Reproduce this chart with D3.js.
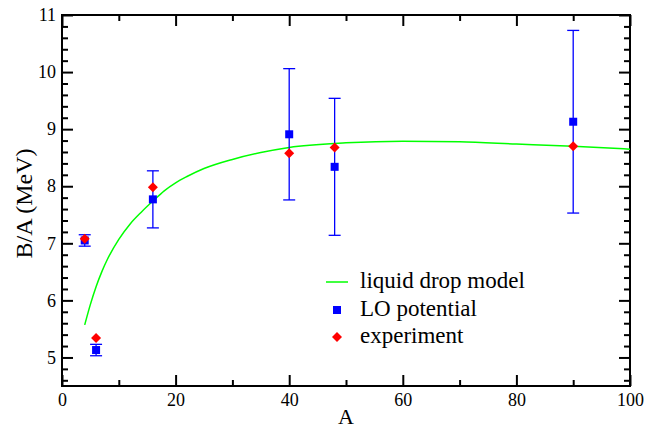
<!DOCTYPE html>
<html>
<head>
<meta charset="utf-8">
<script src="https://cdn.jsdelivr.net/npm/d3@7"></script>
<style>
  html, body { margin: 0; padding: 0; background: #fff; }
  svg, svg text { font-family: "Liberation Serif", "Times New Roman", Times, "DejaVu Serif", serif; }
</style>
</head>
<body>
<svg id="chart" width="647" height="429"></svg>
<script>
// ---- data ----
const nucleusA = [4, 6, 16, 40, 48, 90];
const loPotential = [7.05, 5.13, 7.77, 8.91, 8.34, 9.13];
const loError = [0.10, 0.10, 0.50, 1.15, 1.20, 1.60];
const experiment = [7.08, 5.34, 7.98, 8.58, 8.68, 8.70];

const dropA = [4, 5, 6, 7, 8, 10, 12, 14, 16, 18, 20, 22, 25, 30, 35, 40, 50, 60, 70, 80, 90, 100];
const dropBA = [5.57, 5.93, 6.24, 6.50, 6.72, 7.07, 7.34, 7.55, 7.74, 7.92, 8.06, 8.17, 8.31, 8.47, 8.59, 8.68, 8.76, 8.79, 8.78, 8.74, 8.70, 8.65];

const xMajorTicks = [0, 20, 40, 60, 80, 100];
const xMinorTicks = [10, 30, 50, 70, 90];
const yMajorTicks = [5, 6, 7, 8, 9, 10, 11];
const yMinorTicks = [4.6, 4.8, 5.2, 5.4, 5.6, 5.8, 6.2, 6.4, 6.6, 6.8, 7.2, 7.4, 7.6, 7.8, 8.2, 8.4, 8.6, 8.8, 9.2, 9.4, 9.6, 9.8, 10.2, 10.4, 10.6, 10.8];

const legendLabels = ["liquid drop model", "LO potential", "experiment"];
const xTitle = "A";
const yTitle = "B/A (MeV)";

// ---- layout ----
const FONT = '"Liberation Serif", "Times New Roman", Times, "DejaVu Serif", serif';
const L = 62, R = 630, T = 15, B = 386;
const svg = d3.select("#chart");
svg.append("rect").attr("width", 647).attr("height", 429).attr("fill", "#fff");

const x = d3.scaleLinear().domain([0, 100]).range([L, R]);
const y = d3.scaleLinear().domain([4.5, 11]).range([B, T]);

function styleAxis(g) {
  g.attr("font-family", null).attr("font-size", null);
  g.select(".domain").remove();
  g.selectAll(".tick line").attr("stroke", "#000").attr("stroke-width", 2);
  g.selectAll("text").attr("fill", "#000").attr("font-family", FONT).attr("font-size", "18px");
}

// bottom
svg.append("g").attr("transform", `translate(0,${B})`)
  .call(d3.axisBottom(x).tickValues(xMajorTicks).tickSizeInner(-11).tickSizeOuter(0).tickPadding(7).tickFormat(d3.format("d")))
  .call(styleAxis);
svg.append("g").attr("transform", `translate(0,${B})`)
  .call(d3.axisBottom(x).tickValues(xMinorTicks).tickSizeInner(-6).tickSizeOuter(0).tickFormat(""))
  .call(styleAxis);
// top
svg.append("g").attr("transform", `translate(0,${T})`)
  .call(d3.axisTop(x).tickValues(xMajorTicks).tickSizeInner(-11).tickSizeOuter(0).tickFormat(""))
  .call(styleAxis);
svg.append("g").attr("transform", `translate(0,${T})`)
  .call(d3.axisTop(x).tickValues(xMinorTicks).tickSizeInner(-6).tickSizeOuter(0).tickFormat(""))
  .call(styleAxis);
// left
svg.append("g").attr("transform", `translate(${L},0)`)
  .call(d3.axisLeft(y).tickValues(yMajorTicks).tickSizeInner(-11).tickSizeOuter(0).tickPadding(6).tickFormat(d3.format("d")))
  .call(styleAxis);
svg.append("g").attr("transform", `translate(${L},0)`)
  .call(d3.axisLeft(y).tickValues(yMinorTicks).tickSizeInner(-6).tickSizeOuter(0).tickFormat(""))
  .call(styleAxis);
// right
svg.append("g").attr("transform", `translate(${R},0)`)
  .call(d3.axisRight(y).tickValues(yMajorTicks).tickSizeInner(-11).tickSizeOuter(0).tickFormat(""))
  .call(styleAxis);
svg.append("g").attr("transform", `translate(${R},0)`)
  .call(d3.axisRight(y).tickValues(yMinorTicks).tickSizeInner(-6).tickSizeOuter(0).tickFormat(""))
  .call(styleAxis);

// frame
svg.append("rect").attr("x", L).attr("y", T).attr("width", R - L).attr("height", B - T)
  .attr("fill", "none").attr("stroke", "#000").attr("stroke-width", 2);

// axis titles
svg.append("text").attr("x", (L + R) / 2).attr("y", 424).attr("text-anchor", "middle")
  .attr("font-family", FONT).attr("font-size", "22px").text(xTitle);
svg.append("text").attr("transform", `translate(32,${(T + B) / 2 + 3}) rotate(-90)`).attr("text-anchor", "middle")
  .attr("font-family", FONT).attr("font-size", "24px").text(yTitle);

// liquid drop curve
const dropData = dropA.map((a, i) => [a, dropBA[i]]);
svg.append("path").datum(dropData)
  .attr("fill", "none").attr("stroke", "#00ff00").attr("stroke-width", 1.5)
  .attr("d", d3.line().x(d => x(d[0])).y(d => y(d[1])).curve(d3.curveMonotoneX));

// error bars
const lo = nucleusA.map((a, i) => ({ a, v: loPotential[i], e: loError[i], exp: experiment[i] }));
const eb = svg.append("g").attr("stroke", "#0000ff").attr("stroke-width", 1.3);
lo.forEach(d => {
  eb.append("line").attr("x1", x(d.a)).attr("x2", x(d.a)).attr("y1", y(d.v - d.e)).attr("y2", y(d.v + d.e));
  eb.append("line").attr("x1", x(d.a) - 6).attr("x2", x(d.a) + 6).attr("y1", y(d.v - d.e)).attr("y2", y(d.v - d.e));
  eb.append("line").attr("x1", x(d.a) - 6).attr("x2", x(d.a) + 6).attr("y1", y(d.v + d.e)).attr("y2", y(d.v + d.e));
});

// squares
svg.append("g").selectAll("rect").data(lo).join("rect")
  .attr("x", d => x(d.a) - 4).attr("y", d => y(d.v) - 4)
  .attr("width", 8).attr("height", 8).attr("fill", "#0000ff");

// diamonds
const diamond = d3.symbol().type(d3.symbolSquare).size(50);
svg.append("g").selectAll("path").data(lo).join("path")
  .attr("d", diamond)
  .attr("transform", d => `translate(${x(d.a)},${y(d.exp)}) rotate(45)`)
  .attr("fill", "#ff0000");

// legend
const lg = svg.append("g");
lg.append("line").attr("x1", 326).attr("x2", 348).attr("y1", 282).attr("y2", 282)
  .attr("stroke", "#00ff00").attr("stroke-width", 1.5);
lg.append("rect").attr("x", 333).attr("y", 306).attr("width", 8).attr("height", 8).attr("fill", "#0000ff");
lg.append("path").attr("d", diamond).attr("transform", "translate(337,337) rotate(45)").attr("fill", "#ff0000");
legendLabels.forEach((t, i) => {
  lg.append("text").attr("x", 360).attr("y", 288 + i * 27.5)
    .attr("font-family", FONT).attr("font-size", "23px").text(t);
});
</script>
</body>
</html>
